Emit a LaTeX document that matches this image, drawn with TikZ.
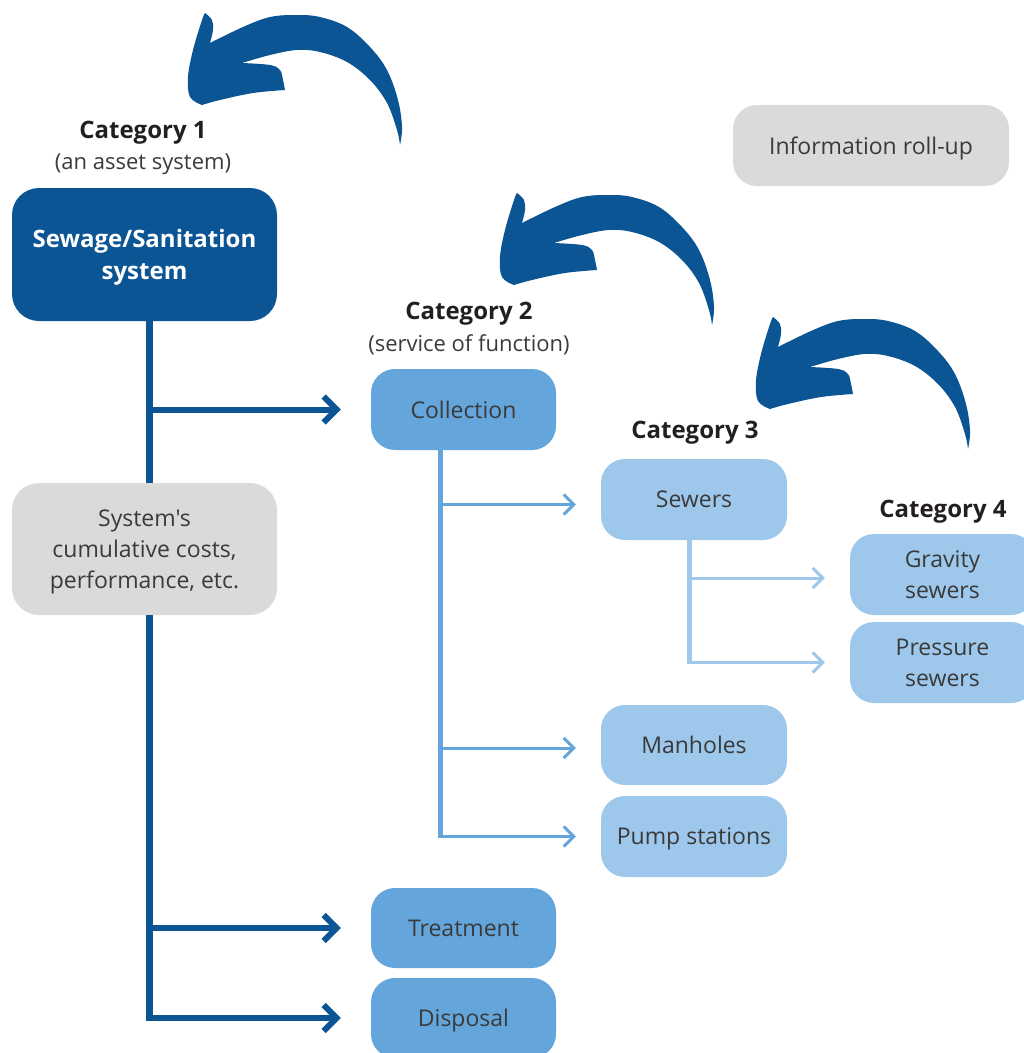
\documentclass[tikz,border=0pt]{standalone}
\usepackage{fontspec}
\setmainfont{Open Sans}[Ligatures=TeXOff]
\usetikzlibrary{arrows.meta}

\definecolor{navy}{HTML}{0B5595}
\definecolor{midblue}{HTML}{64A6DB}
\definecolor{paleblue}{HTML}{9DC8EB}
\definecolor{greybox}{HTML}{DADADA}
\definecolor{bodytext}{HTML}{3A3A3A}
\definecolor{headtext}{HTML}{231F20}

\tikzset{
  box/.style={rectangle, rounded corners=24pt, align=center, inner sep=0pt,
    minimum width=185pt, minimum height=81pt, text=bodytext, text depth=0pt,
    font=\fontsize{23}{31}\selectfont},
  % several lines: a taller first line keeps the block centred on the letters
  multiline/.style={execute at begin node={\rule{0pt}{25pt}}},
  bigbox/.style={box, minimum width=265pt, minimum height=133pt, rounded corners=27pt},
  catlabel/.style={align=center, text=headtext, text depth=0pt,
    font=\bfseries\fontsize{24}{28}\selectfont},
  sublabel/.style={align=center, text=bodytext, text depth=0pt,
    font=\fontsize{22}{26}\selectfont},
  darkline/.style={draw=navy, line width=7pt},
  darkbranch/.style={draw=navy, line width=6pt,
    -{Straight Barb[length=13pt, width=26pt, line width=6pt]}, shorten >=30pt},
  midline/.style={draw=midblue, line width=5pt},
  midbranch/.style={draw=midblue, line width=3pt,
    -{Straight Barb[length=10pt, width=20pt, line width=3pt]}, shorten >=25pt},
  paleline/.style={draw=paleblue, line width=5pt},
  palebranch/.style={draw=paleblue, line width=3pt,
    -{Straight Barb[length=10pt, width=20pt, line width=3pt]}, shorten >=25pt},
  % hand-drawn curved arrow pointing up-left, origin at the head tip
  rollup/.pic={
    \fill[navy]
      plot[smooth, tension=0.6] coordinates {(5,30) (38,14) (65,4) (92,2) (115,4) (142,14) (165,34) (182,57) (193,87) (197,114) (195,132)}
      -- plot[smooth, tension=0.6] coordinates {(195,132) (192,117) (182,90) (165,67) (142,49) (115,39) (92,37) (65,42) (37,50)}
      -- plot[smooth, tension=0.6] coordinates {(37,50) (65,52) (75,57) (78,67) (80,77)}
      -- plot[smooth, tension=0.6] coordinates {(80,77) (48,80) (15,87) (-3,92)}
      -- plot[smooth, tension=0.6] coordinates {(-3,92) (-15,84) (-17,64) (-12,37) (-3,7) (0,0)}
      -- plot[smooth, tension=0.6] coordinates {(0,0) (7,7) (8,17) (5,30)}
      -- cycle;
  }
}

\begin{document}
\begin{tikzpicture}[x=1pt, y=-1pt]
\clip (0,0) rectangle (1024,1053);
\useasboundingbox (0,0) rectangle (1024,1053);

% roll-up arrows
\pic at (205,13) {rollup};
\pic at (517,193) {rollup};
\pic at (773,317) {rollup};

% legend
\node[box, fill=greybox, minimum width=276pt] (info) at (871,145.5) {Information roll-up};

% category 1
\node[catlabel] (cat1) at (143,130) {Category 1};
\node[sublabel] (cat1sub) at (143,162) {(an asset system)};
\node[bigbox, multiline, fill=navy, text=white, font=\bfseries\fontsize{24}{32}\selectfont] (sys) at (144.5,254.5) {Sewage/Sanitation\\system};
\node[bigbox, multiline, fill=greybox, minimum height=132pt] (cost) at (144.5,549) {System's\\cumulative costs,\\performance, etc.};

% category 2
\node[catlabel] (cat2) at (469,311) {Category 2};
\node[sublabel] (cat2sub) at (469,343) {(service of function)};
\node[box, fill=midblue] (coll) at (463.5,409.5) {Collection};
\node[box, fill=midblue, minimum height=80pt] (treat) at (463.5,928) {Treatment};
\node[box, fill=midblue, minimum height=80pt] (disp) at (463.5,1018) {Disposal};

% category 3
\node[catlabel] (cat3) at (695,430) {Category 3};
\node[box, fill=paleblue, minimum width=186pt] (sewers) at (694,499.5) {Sewers};
\node[box, fill=paleblue, minimum width=186pt, minimum height=80pt] (manh) at (694,745) {Manholes};
\node[box, fill=paleblue, minimum width=186pt] (pump) at (694,836.5) {Pump stations};

% category 4
\node[catlabel] (cat4) at (943,509) {Category 4};
\node[box, multiline, fill=paleblue] (grav) at (942.5,574.5) {Gravity\\sewers};
\node[box, multiline, fill=paleblue] (press) at (942.5,662.5) {Pressure\\sewers};

% entry points of the branches, a little off the box centre lines
\coordinate (sewin) at ([yshift=-5pt]sewers.west);
\coordinate (manin) at ([yshift=-3pt]manh.west);
\coordinate (gravin) at ([yshift=-3.5pt]grav.west);

% level 1 -> level 2 connectors
\coordinate (dtrunk) at ([xshift=4.5pt]sys.south);
\coordinate (dend) at ([yshift=-3pt]dtrunk |- disp.west);
\path[darkline] (dtrunk) -- (dtrunk |- cost.north);
\path[darkline] (dtrunk |- cost.south) -- (dend);
\path[darkbranch] (dtrunk |- coll.west) -- (coll.west);
\path[darkbranch] (dtrunk |- treat.west) -- (treat.west);
\path[darkbranch] (dtrunk |- disp.west) -- (disp.west);

% level 2 -> level 3 connectors
\coordinate (mtrunk) at ([xshift=-23.5pt]coll.south);
\coordinate (mend) at ([yshift=-1.5pt]mtrunk |- pump.west);
\path[midline] (mtrunk) -- (mend);
\path[midbranch] (mtrunk |- sewin) -- (sewin);
\path[midbranch] (mtrunk |- manin) -- (manin);
\path[midbranch] (mtrunk |- pump.west) -- (pump.west);

% level 3 -> level 4 connectors
\coordinate (ptrunk) at ([xshift=-5pt]sewers.south);
\coordinate (pend) at ([yshift=-1.5pt]ptrunk |- press.west);
\path[paleline] (ptrunk) -- (pend);
\path[palebranch] (ptrunk |- gravin) -- (gravin);
\path[palebranch] (ptrunk |- press.west) -- (press.west);
\end{tikzpicture}
\end{document}
